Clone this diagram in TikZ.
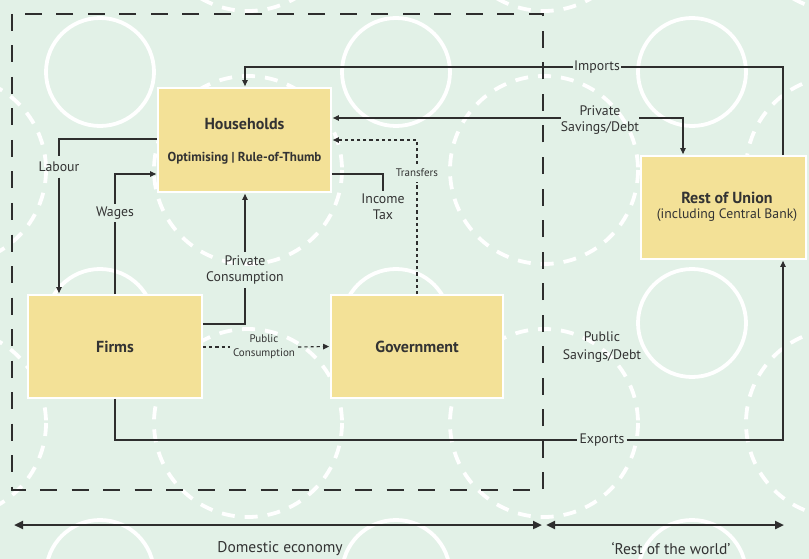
\documentclass[tikz,border=0pt]{standalone}
\usepackage{fontspec}
\setmainfont{PT Sans}
\usetikzlibrary{arrows.meta}
\definecolor{bg}{HTML}{E2F1E7}
\definecolor{boxfill}{HTML}{F3E197}
\definecolor{ink}{HTML}{2E2E2E}
\definecolor{txt}{HTML}{333333}
\tikzset{
  box/.style={draw=white,line width=1.8pt,fill=boxfill,inner sep=0pt},
  flow/.style={draw=ink,line width=1.1pt},
  tip/.style={-{Triangle[length=6pt,width=5.5pt]},shorten >=1pt},
  dotflow/.style={draw=ink,line width=1.1pt,dash pattern=on 3.2pt off 3pt},
  lbl/.style={text=txt,font=\fontsize{13.8}{16}\selectfont,align=center,inner sep=2pt},
  slbl/.style={text=txt,font=\fontsize{11}{14}\selectfont,align=center,inner sep=2pt},
  title/.style={text=txt,font=\fontsize{16}{18}\selectfont\bfseries,inner sep=0pt},
  wcirc/.style={draw=white,line width=3.8pt},
  wdash/.style={draw=white,line width=3.8pt,dash pattern=on 13pt off 10pt},
  domline/.style={draw=ink,line width=2.6pt,dash pattern=on 17pt off 14.5pt},
  spanline/.style={draw=ink,line width=2.4pt,{Triangle[length=9pt,width=8pt]}-{Triangle[length=9pt,width=8pt]}}
}
\begin{document}
\begin{tikzpicture}[x=1pt,y=-1pt]
\fill[bg] (0,0) rectangle (809,559);
\useasboundingbox (0,0) rectangle (809,559);
% background pattern
\foreach \cx in {100,396,692}{
  \foreach \cy in {72,323,574}{
    \draw[wcirc] (\cx,\cy) circle[radius=54];
  }
}
\foreach \cx in {-48,248,544,840}{
  \foreach \cy in {-83,170,423,676}{
    \draw[wdash] (\cx,\cy) circle[radius=94];
  }
}
% domestic economy boundary
\draw[domline] (12,14) rectangle (543,490);
% boxes
\node[box,minimum width=173pt,minimum height=104pt] (hh) at (244.5,140) {};
\node[box,minimum width=174pt,minimum height=103pt] (firms) at (115,346.5) {};
\node[box,minimum width=172pt,minimum height=103pt] (gov) at (417,346.5) {};
\node[box,minimum width=165pt,minimum height=103pt] (rou) at (723.5,207.5) {};
% box texts
\node[title] (hht) at (244.5,124) {Households};
\node[text=txt,font=\fontsize{13}{15}\selectfont\bfseries,inner sep=0pt] (hhs) at (244.5,158) {Optimising | Rule-of-Thumb};
\node[title] (ft) at (115,347) {Firms};
\node[title] (gt) at (417,347) {Government};
\node[title] (rt) at (727,198) {Rest of Union};
\node[text=txt,font=\fontsize{13.7}{15}\selectfont,inner sep=0pt] (rs) at (727,215) {(including Central Bank)};
% labels
\node[lbl,inner sep=1pt] (imp) at (597,67) {Imports};
\node[lbl,inner sep=0pt] (psd) at (600,120) {Private\\Savings/Debt};
\node[slbl,inner xsep=2pt,inner ysep=5pt] (tr) at (417,173) {Transfers};
\node[lbl,inner sep=2.5pt] (inc) at (383,207) {Income\\Tax};
\node[lbl,inner sep=5.5pt] (lab) at (59,167) {Labour};
\node[lbl,inner sep=3pt] (wag) at (115,213) {Wages};
\node[lbl,inner sep=3.5pt] (pc) at (245,270) {Private\\Consumption};
\node[slbl,inner sep=3pt] (pubc) at (264,347) {Public\\Consumption};
\node[lbl,inner sep=2pt] (exp) at (602,440) {Exports};
\node[lbl,font=\fontsize{13.8}{17.5}\selectfont] (psd2) at (602,347) {Public\\Savings/Debt};
% connectors
\draw[flow] (rou.north -| 783,0) -- (783,67) -- (imp.east);
\draw[flow,tip] (imp.west) -- (245,67) -- (hh.north -| 245,0);
\draw[flow,tip] (psd.west |- 0,118) -- (hh.east |- 0,118);
\draw[flow,tip] (psd.east |- 0,118) -- (683,118) -- (rou.north -| 683,0);
\draw[dotflow] (gov.north) -- (tr.south);
\draw[dotflow,tip] (tr.north) -- (417,140) -- (hh.east |- 0,140);
\draw[flow] (hh.east |- 0,174) -- (383,174) -- (inc.north);
\draw[flow] (hh.west |- 0,139) -- (59,139) -- (lab.north);
\draw[flow,tip] (lab.south) -- (firms.north -| 59,0);
\draw[flow] (firms.north -| 115,0) -- (wag.south);
\draw[flow,tip] (wag.north) -- (115,174) -- (hh.west |- 0,174);
\draw[flow] (firms.east |- 0,324) -- (245,324) -- (pc.south);
\draw[flow,tip] (pc.north) -- (hh.south -| 245,0);
\draw[dotflow] (firms.east |- 0,347) -- (pubc.west |- 0,347);
\draw[dotflow,tip] (pubc.east |- 0,347) -- (gov.west);
\draw[flow] (firms.south -| 115,0) -- (115,440) -- (exp.west);
\draw[flow,tip] (exp.east) -- (783,440) -- (rou.south -| 783,0);
% bottom spans
\coordinate (dl) at (14,525);
\coordinate (dr) at (542,525);
\coordinate (wl) at (546,525);
\coordinate (wr) at (784,525);
\draw[spanline] (dl) -- (dr);
\draw[spanline] (wl) -- (wr);
\node[lbl,font=\fontsize{15.5}{18}\selectfont] (dom) at (280,549) {Domestic economy};
\node[lbl,font=\fontsize{15.5}{18}\selectfont] (row) at (671,549) {‘Rest of the world’};
\end{tikzpicture}
\end{document}
